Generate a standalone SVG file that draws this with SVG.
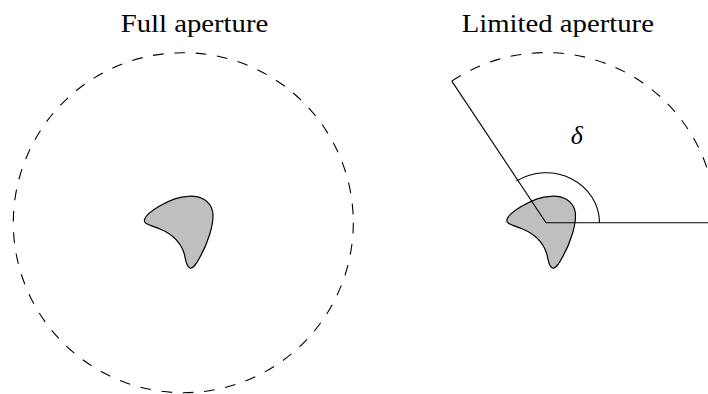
<svg xmlns="http://www.w3.org/2000/svg" xmlns:xlink="http://www.w3.org/1999/xlink" width="708" height="394" viewBox="0 0 708 394">
<style>
.title{font-family:"Liberation Serif","Times New Roman",serif;font-size:25px;fill:#000}
.sym{font-family:"Liberation Serif","Times New Roman",serif;font-size:26px;font-style:italic;fill:#000}
.dash{fill:none;stroke:#000;stroke-width:1.1;stroke-dasharray:10.7 10.7}
.solid{fill:none;stroke:#000;stroke-width:1.1}
.blob{fill:#bfbfbf;stroke:#000;stroke-width:1.2}
</style>
<defs>
<path id="blobShape" class="blob" d="M 144.5,219.5 C 146,213 170,197 188,196.3 C 201,195.5 210,201 212.5,211 C 215,223 207,245 200,257 C 196,265 192,269 190,268 C 186,267 186,260 184,253 C 180,241 172,234 160,229 C 150,225 143,224 144.5,219.5 Z"/>
</defs>
<rect width="708" height="394" fill="#fff"/>
<g id="full-aperture">
<text class="title" x="194.5" y="31.7" text-anchor="middle" textLength="147.6" lengthAdjust="spacingAndGlyphs">Full aperture</text>
<circle class="dash" cx="183.3" cy="222.7" r="170"/>
<use xlink:href="#blobShape"/>
</g>
<g id="limited-aperture">
<text class="title" x="557.8" y="31.7" text-anchor="middle" textLength="192.3" lengthAdjust="spacingAndGlyphs">Limited aperture</text>
<use xlink:href="#blobShape" transform="translate(362.5,0)"/>
<path class="dash" d="M 451.8,81.1 A 170 170 0 0 1 716,222.7"/>
</g>
<g id="connectors">
<line class="solid" x1="546" y1="222.7" x2="708" y2="222.7"/>
<line class="solid" x1="546" y1="222.7" x2="451.8" y2="81.1"/>
<path class="solid" d="M 599.5,222.7 A 53.5 50 0 0 0 516.4,181.1"/>
<text class="sym" x="576.7" y="144" text-anchor="middle">δ</text>
</g>
</svg>
